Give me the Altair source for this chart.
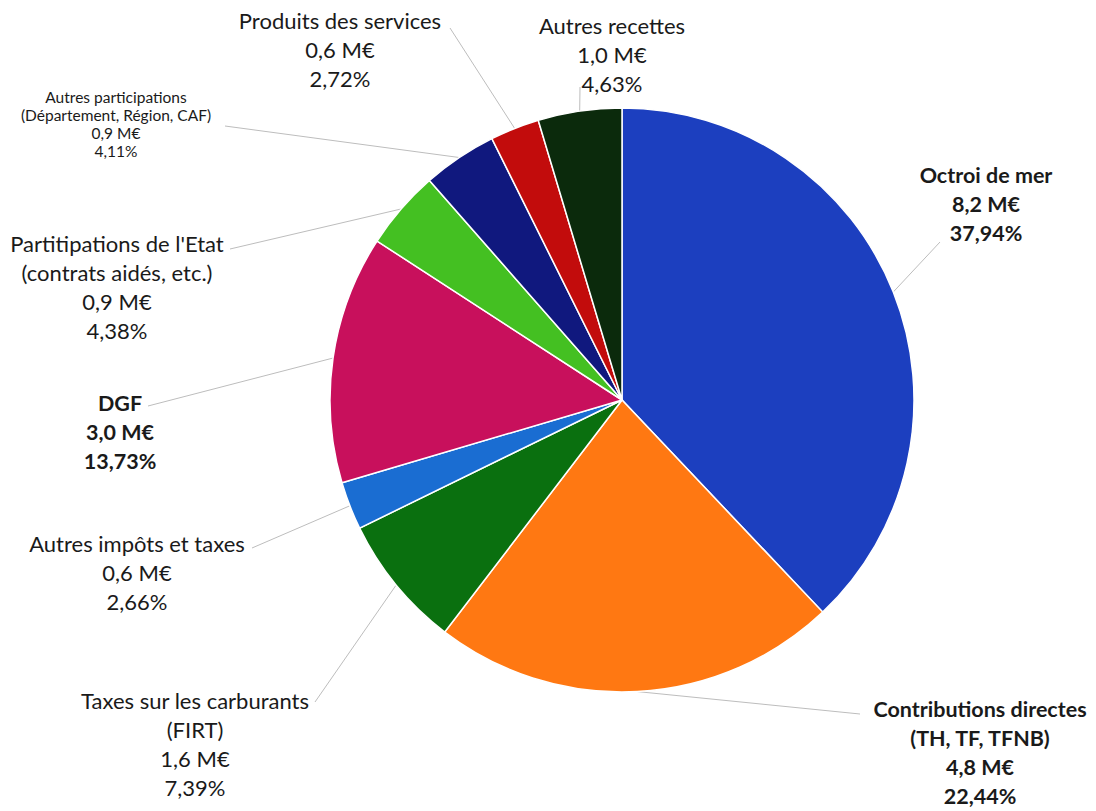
import altair as alt
import pandas as pd
import numpy as np

# ---------------- data ----------------
categories = [
    "Octroi de mer",
    "Contributions directes",
    "Taxes sur les carburants",
    "Autres impôts et taxes",
    "DGF",
    "Partitipations de l'Etat",
    "Autres participations",
    "Produits des services",
    "Autres recettes",
]
name_lines = [
    "Octroi de mer",
    "Contributions directes\n(TH, TF, TFNB)",
    "Taxes sur les carburants\n(FIRT)",
    "Autres impôts et taxes",
    "DGF",
    "Partitipations de l'Etat\n(contrats aidés, etc.)",
    "Autres participations\n(Département, Région, CAF)",
    "Produits des services",
    "Autres recettes",
]
pct = [37.94, 22.44, 7.39, 2.66, 13.73, 4.38, 4.11, 2.72, 4.63]
amount = ["8,2 M€", "4,8 M€", "1,6 M€", "0,6 M€", "3,0 M€", "0,9 M€", "0,9 M€", "0,6 M€", "1,0 M€"]
colors = ["#1c3fbf", "#ff7812", "#0a700f", "#1a6dd2", "#c8105c",
          "#44c022", "#10187e", "#c20c0c", "#0b2a0c"]
style = ["bold", "bold", "regular", "regular", "bold", "regular", "small", "regular", "regular"]

# ---------------- layout (pixels inside the plot area) ----------------
W, H = 1080, 795
CX, CY, R = 614, 392, 292
# label x centre / first-line y, and leader-line starting points
label_xy = [(978, 169), (972, 703), (187, 694), (129, 537), (112, 397),
            (109, 237), (108, 90), (332, 14), (604, 19)]
line_start = [(932, 234), (852, 706), (307, 694), (244, 540), (140, 398),
              (222, 241), (217, 118), (442, 20), (572, 79)]

df = pd.DataFrame({
    "cat": categories,
    "idx": list(range(len(categories))),
    "pct": pct,
    "style": style,
})
df["label"] = [f"{n}\n{a}\n" + f"{p:.2f}%".replace(".", ",")
               for n, a, p in zip(name_lines, amount, pct)]
cum = np.cumsum(pct) - np.array(pct) / 2.0
ang = cum / 100.0 * 2 * np.pi
df["ex"] = CX + R * np.sin(ang)
df["ey"] = CY - R * np.cos(ang)
df["lx"] = [p[0] for p in label_xy]
df["ly"] = [p[1] for p in label_xy]
df["sx"] = [p[0] for p in line_start]
df["sy"] = [p[1] for p in line_start]

xs = alt.Scale(domain=[0, W], nice=False, zero=False)
ys = alt.Scale(domain=[H, 0], nice=False, zero=False)

base = alt.Chart(df)

rules = base.mark_rule(color="#bdbdbd", strokeWidth=1).encode(
    x=alt.X("sx:Q", scale=xs, axis=None),
    y=alt.Y("sy:Q", scale=ys, axis=None),
    x2="ex:Q",
    y2="ey:Q",
)

arcs = base.mark_arc(outerRadius=R, stroke="white", strokeWidth=1.5).encode(
    theta=alt.Theta("pct:Q", stack=True),
    color=alt.Color("cat:N", scale=alt.Scale(domain=categories, range=colors), legend=None),
    order=alt.Order("idx:Q"),
    x=alt.value(CX),
    y=alt.value(CY),
)

def text_layer(kind, size, lh, weight):
    return base.transform_filter(alt.datum.style == kind).mark_text(
        font="Lato", fontSize=size, lineHeight=lh, fontWeight=weight,
        color="#1a1a1a", align="center", baseline="middle", lineBreak="\n",
    ).encode(
        x=alt.X("lx:Q", scale=xs, axis=None),
        y=alt.Y("ly:Q", scale=ys, axis=None),
        text="label:N",
    )

chart = alt.layer(
    rules,
    arcs,
    text_layer("bold", 21.5, 29, "bold"),
    text_layer("regular", 22, 29, "normal"),
    text_layer("small", 15.5, 18, "normal"),
).properties(width=W, height=H, padding=0, background="white").configure_view(stroke=None)

chart.save("out.html", embed_options={"renderer": "svg", "actions": False})
